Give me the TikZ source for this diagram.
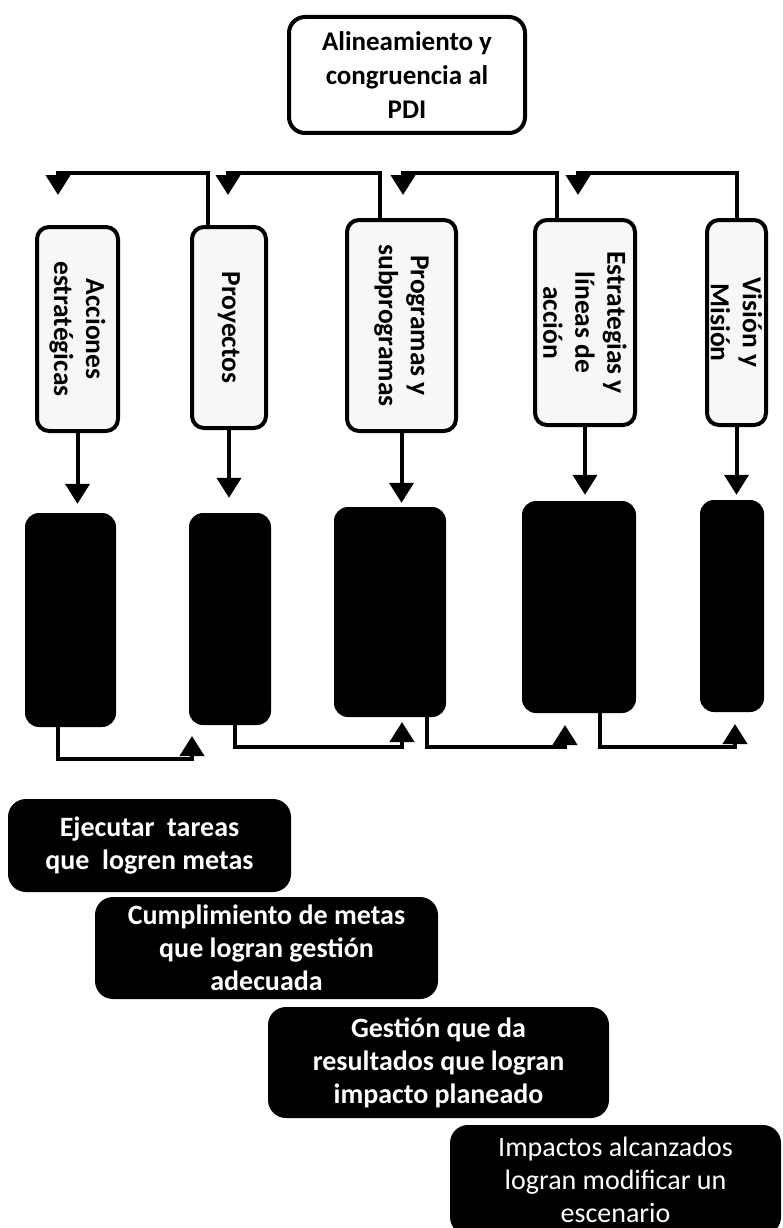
\documentclass[tikz,border=0pt]{standalone}
\usepackage{fontspec}
\setmainfont{Carlito}
\usetikzlibrary{arrows.meta}
\begin{document}
\begin{tikzpicture}[x=1pt,y=-1pt,
  conn/.style={line width=4pt},
  arr/.style={-{Triangle[length=20pt,width=24pt]}},
  topbox/.style={draw,line width=4pt,rounded corners=16pt,fill=white,align=center,inner sep=0pt,font=\bfseries\fontsize{27}{34}\selectfont},
  vbox/.style={draw,line width=4pt,rounded corners=12pt,fill=gray!6,rotate=-90,align=center,inner sep=0pt,font=\bfseries\fontsize{27.5}{32}\selectfont},
  kbox/.style={fill=black,rounded corners=14pt,inner sep=0pt},
  tbox/.style={fill=black,rounded corners=18pt,text=white,align=center,inner sep=0pt,font=\bfseries\fontsize{28}{33}\selectfont},
]
\useasboundingbox (0,0) rectangle (783,1228);

% top box
\node[topbox,minimum width=236,minimum height=116] (pdi) at (407,75) {Alineamiento y\\congruencia al\\PDI};

% vertical boxes (rotated: width = vertical extent)
\node[vbox,minimum width=204,minimum height=81] (A1) at (77.5,329) {Acciones\\estratégicas};
\node[vbox,minimum width=201,minimum height=74] (A2) at (229,327.5) {Proyectos};
\node[vbox,minimum width=211,minimum height=109] (A3) at (401.5,325.5) {Programas y\\subprogramas};
\node[vbox,minimum width=205,minimum height=100] (A4) at (585,322.5) {Estrategias y\\líneas de\\acción};
\node[vbox,minimum width=205,minimum height=59] (A5) at (736.5,322.5) {Visión y\\Misión};

% black boxes
\node[kbox,minimum width=91,minimum height=214] (K1) at (70.5,620) {};
\node[kbox,minimum width=82,minimum height=212] (K2) at (230,619) {};
\node[kbox,minimum width=112,minimum height=210] (K3) at (390,612) {};
\node[kbox,minimum width=114,minimum height=212] (K4) at (579,607) {};
\node[kbox,minimum width=64,minimum height=212] (K5) at (732,606) {};

% bottom text boxes
\node[tbox,minimum width=283,minimum height=93] (B1) at (149.5,845.5) {Ejecutar~ tareas\\que~ logren metas};
\node[tbox,minimum width=343,minimum height=102] (B2) at (266.5,948) {Cumplimiento de metas\\que logran gestión\\adecuada};
\node[tbox,minimum width=341,minimum height=111] (B3) at (438.5,1062.5) {Gestión que da\\resultados que logran\\impacto planeado};
\node[tbox,font=\fontsize{28}{33}\selectfont,minimum width=331,minimum height=110] (B4) at (615.5,1180) {Impactos alcanzados\\logran modificar un\\escenario};

% top connectors
\coordinate (h1) at (58,173);  \coordinate (t1) at (58,195);
\coordinate (h2) at (228,173); \coordinate (t2) at (228,195);
\coordinate (h3) at (403,173); \coordinate (t3) at (403,195);
\coordinate (h4) at (578,173); \coordinate (t4) at (578,195);
\draw[conn,arr] ([xshift=-21pt]A2.west) |- (h1) -- (t1);
\draw[conn,arr] ([xshift=-21.5pt]A3.west) |- (h2) -- (t2);
\draw[conn,arr] ([xshift=-28pt]A4.west) |- (h3) -- (t3);
\draw[conn,arr] (A5.west) |- (h4) -- (t4);

% down arrows
\draw[conn,arr,shorten >=9pt] (A1.east) -- (A1.east |- K1.north);
\draw[conn,arr,shorten >=15pt] (A2.east) -- (A2.east |- K2.north);
\draw[conn,arr,shorten >=4pt] (A3.east) -- (A3.east |- K3.north);
\draw[conn,arr,shorten >=6pt] (A4.east) -- (A4.east |- K4.north);
\draw[conn,arr,shorten >=5pt] (A5.east) -- (A5.east |- K5.north);

% lower connectors
\coordinate (u1) at (192,736);
\coordinate (u2) at (402,722);
\coordinate (u3) at (565,725);
\coordinate (u4) at (735,724);
\draw[conn,arr] ([xshift=-12.5pt]K1.south) |- ([yshift=-23pt]u1) -- (u1);
\draw[conn,arr] ([xshift=5pt]K2.south) |- ([yshift=-25pt]u2) -- (u2);
\draw[conn,arr] ([xshift=37pt]K3.south) |- ([yshift=-22pt]u3) -- (u3);
\draw[conn,arr] ([xshift=21pt]K4.south) |- ([yshift=-23pt]u4) -- (u4);
\end{tikzpicture}
\end{document}
